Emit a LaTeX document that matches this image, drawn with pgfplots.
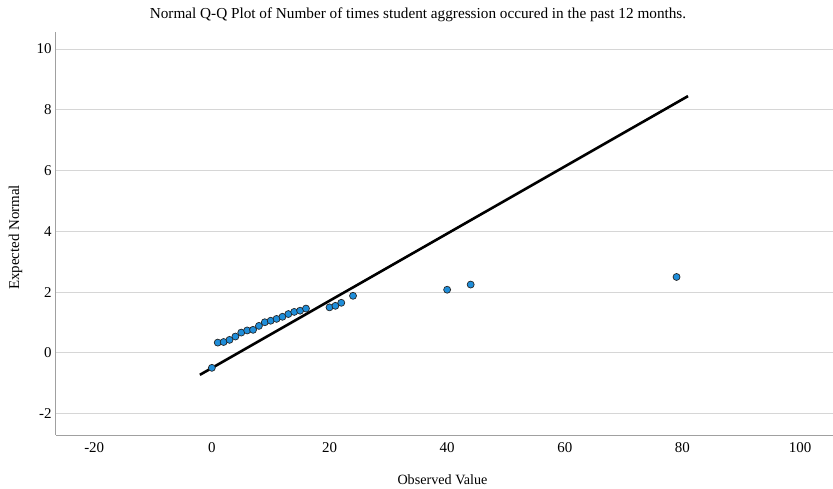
\documentclass[border=0pt]{standalone}
\usepackage{fontspec}
\setmainfont{Liberation Serif}
\usepackage{pgfplots}
\pgfplotsset{compat=1.18}
\definecolor{ptfill}{RGB}{31,142,218}
\definecolor{gridc}{RGB}{214,214,214}
\definecolor{axc}{RGB}{160,160,160}
\begin{document}
\begin{tikzpicture}
\useasboundingbox (-56bp,-54bp) rectangle (777bp,435bp);
\begin{axis}[
  at={(0,0)}, anchor=south west,
  scale only axis, width=777bp, height=403bp,
  xmin=-26.5, xmax=105.6, ymin=-2.7, ymax=10.56,
  axis x line*=bottom, axis y line*=left,
  axis line style={draw=axc, line width=1bp},
  xtick={-20,0,20,40,60,80,100},
  xticklabels={-20,0,20,40,60,80,100},
  ytick={-2,0,2,4,6,8,10},
  yticklabels={-2,0,2,4,6,8,10},
  major tick length=0pt,
  ymajorgrids, grid style={draw=gridc, line width=1bp},
  tick label style={font=\fontsize{15}{17}\selectfont},
  xticklabel style={yshift=-4bp},
  yticklabel style={xshift=-1bp},
  clip=false,
]
\addplot[black, line width=2.6bp] coordinates {(-2.04,-0.72) (80.95,8.45)};
\addplot[only marks, mark=*, mark size=3.5bp,
  mark options={fill=ptfill, draw=black!85, line width=0.7bp}]
  table {
x y
0 -0.49
1 0.34
2 0.36
3 0.43
4 0.54
5 0.67
6 0.74
7 0.76
8 0.89
9 1.01
10 1.06
11 1.12
12 1.19
13 1.28
14 1.35
15 1.39
16 1.46
20 1.50
21 1.55
22 1.65
24 1.88
40 2.08
44 2.25
79 2.50
};
\end{axis}
\node[anchor=base, font=\fontsize{15.3}{17}\selectfont] at (362bp,416.5bp)
  {Normal Q-Q Plot of Number of times student aggression occured in the past 12 months.};
\node[anchor=base, font=\fontsize{14.2}{16}\selectfont] at (386.5bp,-49.5bp) {Observed Value};
\node[anchor=base, rotate=90, font=\fontsize{15}{17}\selectfont] at (-37bp,197.5bp) {Expected Normal};
\end{tikzpicture}
\end{document}
